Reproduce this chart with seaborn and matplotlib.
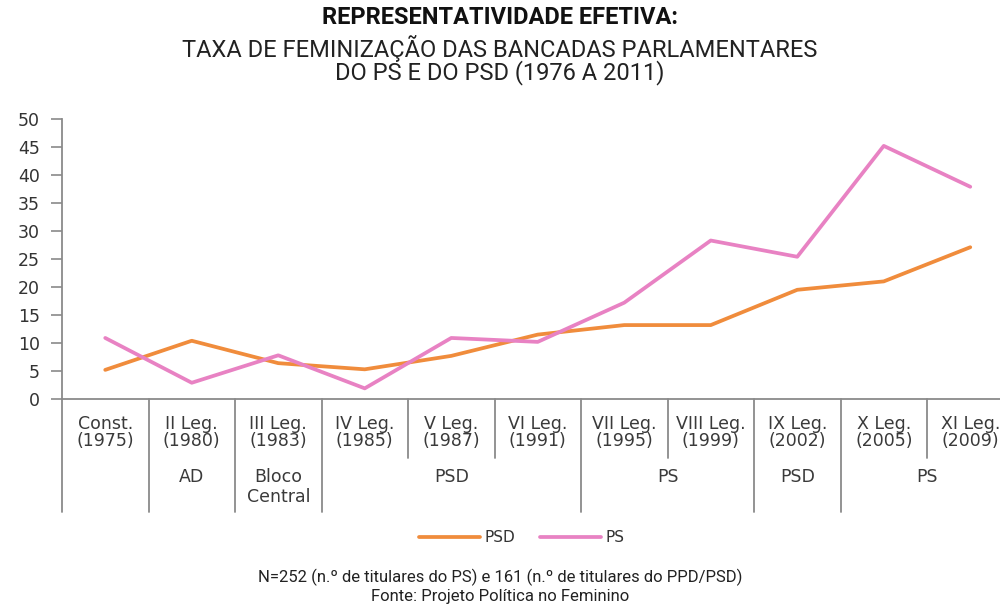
import matplotlib
matplotlib.use("Agg")
import matplotlib.pyplot as plt
import seaborn as sns
import pandas as pd

legislaturas = ["Const.", "II Leg.", "III Leg.", "IV Leg.", "V Leg.", "VI Leg.",
                "VII Leg.", "VIII Leg.", "IX Leg.", "X Leg.", "XI Leg."]
anos = ["(1975)", "(1980)", "(1983)", "(1985)", "(1987)", "(1991)",
        "(1995)", "(1999)", "(2002)", "(2005)", "(2009)"]
psd = [5.2, 10.4, 6.4, 5.3, 7.7, 11.5, 13.2, 13.2, 19.5, 21.0, 27.1]
ps = [10.9, 2.9, 7.8, 1.9, 10.9, 10.2, 17.2, 28.3, 25.4, 45.2, 37.9]
# governing groups: (label, first index, last index)
governos = [("", 0, 0), ("AD", 1, 1), ("Bloco\nCentral", 2, 2), ("PSD", 3, 5),
            ("PS", 6, 7), ("PSD", 8, 8), ("PS", 9, 10)]

df = pd.DataFrame({
    "idx": list(range(len(legislaturas))) * 2,
    "valor": psd + ps,
    "partido": ["PSD"] * len(psd) + ["PS"] * len(ps),
})

sns.set_theme(style="white")
plt.rcParams["font.family"] = ["DejaVu Sans"]

W, H = 1000, 606
fig = plt.figure(figsize=(W / 100, H / 100), dpi=100)
ax = fig.add_axes([62 / W, 1 - 399 / H, 951.5 / W, 280 / H])

pal = {"PSD": "#F08C3C", "PS": "#E882C3"}
sns.lineplot(data=df, x="idx", y="valor", hue="partido", palette=pal,
             linewidth=2.7, ax=ax, legend=False)

ax.set_xlim(-0.5, len(legislaturas) - 0.5)
ax.set_ylim(0, 50)
ax.set_yticks(range(0, 51, 5))
ax.set_xticks([])
ax.set_xlabel("")
ax.set_ylabel("")
for s in ["top", "right"]:
    ax.spines[s].set_visible(False)
grey = "#8a8a8a"
for s in ["left", "bottom"]:
    ax.spines[s].set_color(grey)
    ax.spines[s].set_linewidth(1.3)
ax.tick_params(axis="y", direction="out", length=8, width=1.2, color=grey,
               pad=8, labelsize=12.5, labelcolor="#333333", left=True)

tr = ax.get_xaxis_transform()
txtc = "#3a3a3a"
fs = 12.5
def fy(p):
    return (399 - p) / 280

for i, (leg, ano) in enumerate(zip(legislaturas, anos)):
    ax.text(i, fy(424), leg, transform=tr, ha="center", va="center",
            fontsize=fs, color=txtc, clip_on=False)
    ax.text(i, fy(441), ano, transform=tr, ha="center", va="center",
            fontsize=fs, color=txtc, clip_on=False)

group_starts = {g[1] for g in governos}
for i in range(len(legislaturas)):
    end = fy(512) if i in group_starts else fy(458)
    ax.plot([i - 0.5, i - 0.5], [0, end], transform=tr, color=grey,
            lw=1.3, clip_on=False)

for lab, a, b in governos:
    if not lab:
        continue
    c = (a + b) / 2
    if "\n" in lab:
        l1, l2 = lab.split("\n")
        ax.text(c, fy(477), l1, transform=tr, ha="center", va="center",
                fontsize=fs, color=txtc, clip_on=False)
        ax.text(c, fy(497), l2, transform=tr, ha="center", va="center",
                fontsize=fs, color=txtc, clip_on=False)
    else:
        ax.text(c, fy(477), lab, transform=tr, ha="center", va="center",
                fontsize=fs, color=txtc, clip_on=False)

# legend
from matplotlib.lines import Line2D
handles = [Line2D([], [], color=pal["PSD"], lw=2.7),
           Line2D([], [], color=pal["PS"], lw=2.7)]
fig.legend(handles, ["PSD", "PS"], loc="center", bbox_to_anchor=(0.522, 1 - 538 / H),
           ncol=2, frameon=False, fontsize=11, handlelength=4.0,
           handletextpad=0.3, columnspacing=1.6, labelcolor="#333333")

cond = ["Roboto", "DejaVu Sans"]
fig.text(0.5, 1 - 18 / H, "REPRESENTATIVIDADE EFETIVA:", ha="center", va="center",
         fontsize=17, fontweight="bold", family=cond, color="#111111")
fig.text(0.5, 1 - 48 / H, "TAXA DE FEMINIZAÇÃO DAS BANCADAS PARLAMENTARES",
         ha="center", va="center", fontsize=17, family=cond, color="#222222")
fig.text(0.5, 1 - 73 / H, "DO PS E DO PSD (1976 A 2011)",
         ha="center", va="center", fontsize=17, family=cond, color="#222222")

fig.text(0.5, 1 - 577 / H,
         "N=252 (n.º de titulares do PS) e 161 (n.º de titulares do PPD/PSD)",
         ha="center", va="center", fontsize=12, family=cond, color="#222222")
fig.text(0.5, 1 - 597 / H, "Fonte: Projeto Política no Feminino",
         ha="center", va="center", fontsize=12, family=cond, color="#222222")

fig.savefig("out.png", dpi=100, facecolor="white")
